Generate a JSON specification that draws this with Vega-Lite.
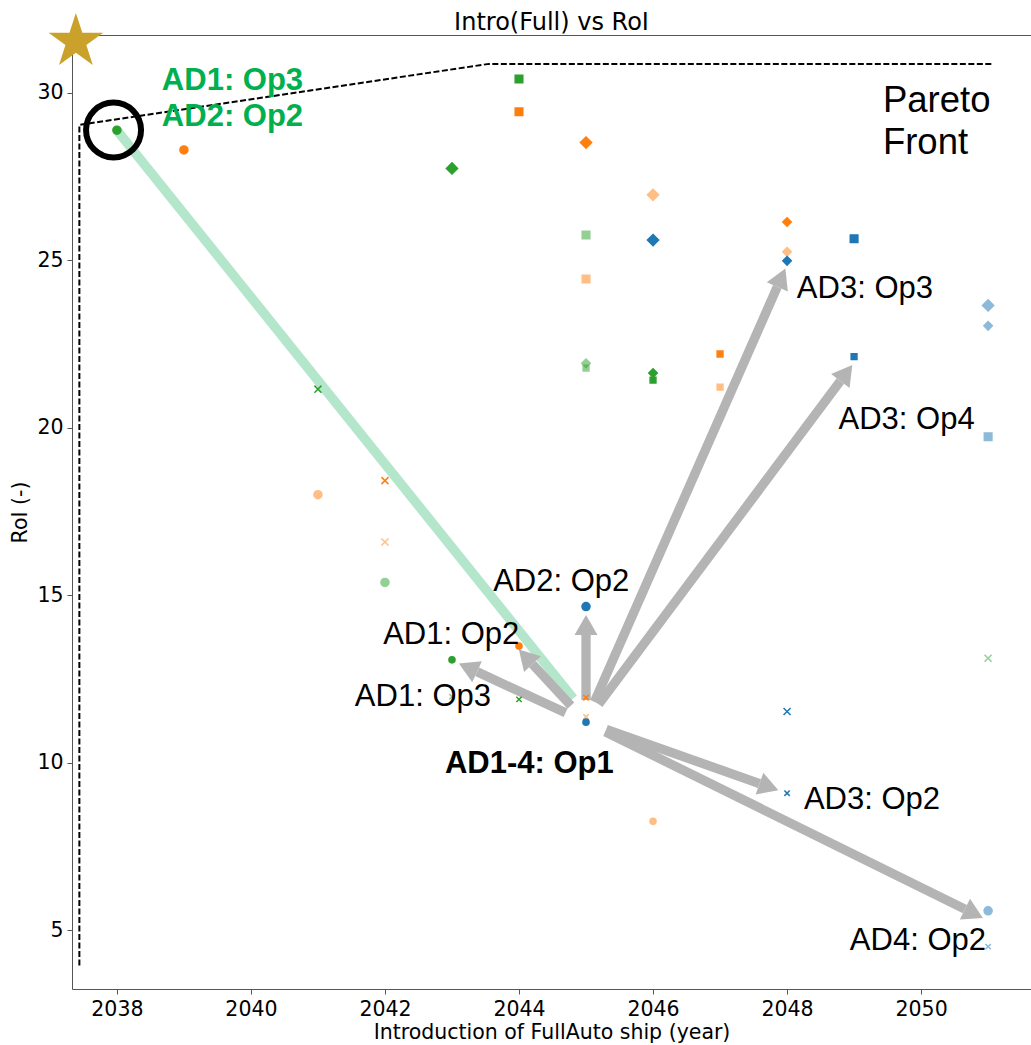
{
  "$schema": "https://vega.github.io/schema/vega-lite/v6.json",
  "width": 959,
  "height": 954,
  "autosize": "none",
  "padding": {"left": 72, "top": 35, "right": 0, "bottom": 56},
  "background": "white",
  "title": {"text": "Intro(Full) vs RoI", "font": "DejaVu Sans", "fontSize": 24, "fontWeight": "normal", "color": "#000", "anchor": "middle", "frame": "group", "baseline": "alphabetic", "offset": 0, "dy": 41},
  "config": {
    "view": {"stroke": "#555", "strokeWidth": 1},
    "axis": {"domain": false, "grid": false, "tickColor": "#555", "tickSize": 5, "tickWidth": 1, "labelFont": "DejaVu Sans", "labelFontSize": 20.5, "labelColor": "#000", "titleFont": "DejaVu Sans", "titleFontSize": 20.5, "titleFontWeight": "normal", "titleColor": "#000"}
  },
  "datasets": {
    "pts": [
      {"year": 2038, "roi": 28.88, "grp": "C", "tone": "full", "mk": "o", "sz": "big"},
      {"year": 2039, "roi": 28.29, "grp": "B", "tone": "full", "mk": "o", "sz": "big"},
      {"year": 2044, "roi": 30.41, "grp": "C", "tone": "full", "mk": "s", "sz": "big"},
      {"year": 2044, "roi": 29.43, "grp": "B", "tone": "full", "mk": "s", "sz": "big"},
      {"year": 2045, "roi": 28.51, "grp": "B", "tone": "full", "mk": "d", "sz": "big"},
      {"year": 2043, "roi": 27.74, "grp": "C", "tone": "full", "mk": "d", "sz": "big"},
      {"year": 2046, "roi": 26.95, "grp": "B", "tone": "faded", "mk": "d", "sz": "big"},
      {"year": 2045, "roi": 25.75, "grp": "C", "tone": "faded", "mk": "s", "sz": "big"},
      {"year": 2046, "roi": 25.6, "grp": "A", "tone": "full", "mk": "d", "sz": "big"},
      {"year": 2048, "roi": 26.14, "grp": "B", "tone": "full", "mk": "d", "sz": "small"},
      {"year": 2048, "roi": 25.25, "grp": "B", "tone": "faded", "mk": "d", "sz": "small"},
      {"year": 2048, "roi": 24.98, "grp": "A", "tone": "full", "mk": "d", "sz": "small"},
      {"year": 2049, "roi": 25.64, "grp": "A", "tone": "full", "mk": "s", "sz": "big"},
      {"year": 2045, "roi": 24.44, "grp": "B", "tone": "faded", "mk": "s", "sz": "big"},
      {"year": 2051, "roi": 23.65, "grp": "A", "tone": "faded", "mk": "d", "sz": "big"},
      {"year": 2051, "roi": 23.04, "grp": "A", "tone": "faded", "mk": "d", "sz": "small"},
      {"year": 2047, "roi": 22.2, "grp": "B", "tone": "full", "mk": "s", "sz": "small"},
      {"year": 2049, "roi": 22.12, "grp": "A", "tone": "full", "mk": "s", "sz": "small"},
      {"year": 2045, "roi": 21.92, "grp": "C", "tone": "faded", "mk": "d", "sz": "small"},
      {"year": 2045, "roi": 21.78, "grp": "C", "tone": "faded", "mk": "s", "sz": "small"},
      {"year": 2046, "roi": 21.63, "grp": "C", "tone": "full", "mk": "d", "sz": "small"},
      {"year": 2046, "roi": 21.42, "grp": "C", "tone": "full", "mk": "s", "sz": "small"},
      {"year": 2047, "roi": 21.21, "grp": "B", "tone": "faded", "mk": "s", "sz": "small"},
      {"year": 2051, "roi": 19.73, "grp": "A", "tone": "faded", "mk": "s", "sz": "big"},
      {"year": 2041, "roi": 21.15, "grp": "C", "tone": "full", "mk": "x", "sz": "big"},
      {"year": 2042, "roi": 18.42, "grp": "B", "tone": "full", "mk": "x", "sz": "big"},
      {"year": 2041, "roi": 18.0, "grp": "B", "tone": "faded", "mk": "o", "sz": "big"},
      {"year": 2042, "roi": 16.59, "grp": "B", "tone": "faded", "mk": "x", "sz": "big"},
      {"year": 2042, "roi": 15.38, "grp": "C", "tone": "faded", "mk": "o", "sz": "big"},
      {"year": 2045, "roi": 14.66, "grp": "A", "tone": "full", "mk": "o", "sz": "big"},
      {"year": 2044, "roi": 13.48, "grp": "B", "tone": "full", "mk": "o", "sz": "small"},
      {"year": 2043, "roi": 13.07, "grp": "C", "tone": "full", "mk": "o", "sz": "small"},
      {"year": 2044, "roi": 11.89, "grp": "C", "tone": "full", "mk": "x", "sz": "small"},
      {"year": 2043, "roi": 11.97, "grp": "C", "tone": "faded", "mk": "x", "sz": "small"},
      {"year": 2045, "roi": 11.94, "grp": "B", "tone": "full", "mk": "x", "sz": "small"},
      {"year": 2045, "roi": 11.37, "grp": "B", "tone": "faded", "mk": "x", "sz": "small"},
      {"year": 2045, "roi": 11.21, "grp": "A", "tone": "full", "mk": "o", "sz": "small"},
      {"year": 2051, "roi": 13.12, "grp": "C", "tone": "faded", "mk": "x", "sz": "big"},
      {"year": 2048, "roi": 11.53, "grp": "A", "tone": "full", "mk": "x", "sz": "big"},
      {"year": 2048, "roi": 9.09, "grp": "A", "tone": "full", "mk": "x", "sz": "small"},
      {"year": 2046, "roi": 8.25, "grp": "B", "tone": "faded", "mk": "o", "sz": "small"},
      {"year": 2051, "roi": 5.58, "grp": "A", "tone": "faded", "mk": "o", "sz": "big"},
      {"year": 2051, "roi": 4.51, "grp": "A", "tone": "faded", "mk": "x", "sz": "small"}
    ],
    "front": [
      {"year": 2037.44, "roi": 3.95, "o": 1},
      {"year": 2037.44, "roi": 29.04, "o": 2},
      {"year": 2043.55, "roi": 30.86, "o": 3},
      {"year": 2051.05, "roi": 30.86, "o": 4}
    ],
    "shafts": [
      {"id": "a1", "kind": "gray", "year": 2044.695, "roi": 11.49, "year2": 2043.375, "roi2": 12.713},
      {"id": "a2", "kind": "gray", "year": 2044.774, "roi": 11.704, "year2": 2044.201, "roi2": 12.94},
      {"id": "a3", "kind": "gray", "year": 2045.0, "roi": 11.871, "year2": 2045.0, "roi2": 13.812},
      {"id": "a4", "kind": "gray", "year": 2045.125, "roi": 11.818, "year2": 2047.854, "roi2": 24.206},
      {"id": "a5", "kind": "gray", "year": 2045.189, "roi": 11.743, "year2": 2048.795, "roi2": 21.394},
      {"id": "a6", "kind": "gray", "year": 2045.302, "roi": 10.997, "year2": 2047.589, "roi2": 9.376},
      {"id": "a7", "kind": "gray", "year": 2045.287, "roi": 10.925, "year2": 2050.654, "roi2": 5.627},
      {"id": "g1", "kind": "green", "year": 2044.81, "roi": 11.92, "year2": 2038.0, "roi2": 28.88}
    ],
    "heads": [
      {"id": "a1", "year": 2043.103, "roi": 12.964},
      {"id": "a2", "year": 2043.998, "roi": 13.379},
      {"id": "a3", "year": 2045.0, "roi": 14.409},
      {"id": "a4", "year": 2047.975, "roi": 24.752},
      {"id": "a5", "year": 2048.974, "roi": 21.872},
      {"id": "a6", "year": 2047.87, "roi": 9.176},
      {"id": "a7", "year": 2050.922, "roi": 5.364}
    ],
    "labels": [
      {"t": "AD1: Op3", "kind": "green", "year": 2038.671, "roi": 30.081},
      {"t": "AD2: Op2", "kind": "green", "year": 2038.671, "roi": 29.006},
      {"t": "Pareto", "kind": "pareto", "year": 2049.43, "roi": 29.433},
      {"t": "Front", "kind": "pareto", "year": 2049.43, "roi": 28.17},
      {"t": "AD3: Op3", "kind": "plain", "year": 2048.146, "roi": 23.871},
      {"t": "AD3: Op4", "kind": "plain", "year": 2048.768, "roi": 19.952},
      {"t": "AD2: Op2", "kind": "plain", "year": 2043.615, "roi": 15.134},
      {"t": "AD1: Op2", "kind": "plain", "year": 2041.973, "roi": 13.534},
      {"t": "AD1: Op3", "kind": "plain", "year": 2041.551, "roi": 11.693},
      {"t": "AD3: Op2", "kind": "plain", "year": 2048.251, "roi": 8.609},
      {"t": "AD4: Op2", "kind": "plain", "year": 2048.937, "roi": 4.409},
      {"t": "AD1-4: Op1", "kind": "bold", "year": 2042.894, "roi": 9.684}
    ],
    "marks": [
      {"kind": "ring", "year": 2037.95, "roi": 28.887},
      {"kind": "star", "year": 2037.388, "roi": 31.522}
    ]
  },
  "encoding": {
    "x": {"field": "year", "type": "quantitative", "scale": {"domain": [2037.33, 2051.64], "nice": false, "zero": false},
      "axis": {"values": [2038, 2040, 2042, 2044, 2046, 2048, 2050], "format": "d", "title": "Introduction of FullAuto ship (year)", "labelPadding": 5, "titlePadding": 3}},
    "y": {"field": "roi", "type": "quantitative", "scale": {"domain": [3.245, 31.722], "nice": false, "zero": false},
      "axis": {"values": [5, 10, 15, 20, 25, 30], "title": "RoI (-)", "labelPadding": 4, "titlePadding": 6}}
  },
  "layer": [
    {"data": {"name": "front"}, "mark": {"type": "line", "color": "#000", "strokeWidth": 2, "strokeDash": [6, 2.5]}, "encoding": {"order": {"field": "o", "type": "quantitative"}}},
    {"data": {"name": "shafts"}, "transform": [{"filter": "datum.kind == 'green'"}], "mark": {"type": "rule", "color": "#b3e6ca", "strokeWidth": 9.5, "strokeCap": "butt"}, "encoding": {"x2": {"field": "year2"}, "y2": {"field": "roi2"}}},
    {"data": {"name": "shafts"}, "transform": [{"filter": "datum.kind == 'gray'"}], "mark": {"type": "rule", "color": "#b4b4b4", "strokeWidth": 9.3, "strokeCap": "butt"}, "encoding": {"x2": {"field": "year2"}, "y2": {"field": "roi2"}}},
    {"data": {"name": "heads"}, "transform": [{"filter": "datum.id == 'a1'"}], "mark": {"type": "point", "shape": "M0,0L0.575,1L-0.575,1Z", "size": 1600, "filled": true, "opacity": 1, "color": "#b4b4b4", "strokeWidth": 0, "angle": -65.2}},
    {"data": {"name": "heads"}, "transform": [{"filter": "datum.id == 'a2'"}], "mark": {"type": "point", "shape": "M0,0L0.575,1L-0.575,1Z", "size": 1600, "filled": true, "opacity": 1, "color": "#b4b4b4", "strokeWidth": 0, "angle": -42.9}},
    {"data": {"name": "heads"}, "transform": [{"filter": "datum.id == 'a3'"}], "mark": {"type": "point", "shape": "M0,0L0.575,1L-0.575,1Z", "size": 1600, "filled": true, "opacity": 1, "color": "#b4b4b4", "strokeWidth": 0, "angle": 0}},
    {"data": {"name": "heads"}, "transform": [{"filter": "datum.id == 'a4'"}], "mark": {"type": "point", "shape": "M0,0L0.575,1L-0.575,1Z", "size": 1600, "filled": true, "opacity": 1, "color": "#b4b4b4", "strokeWidth": 0, "angle": 23.8}},
    {"data": {"name": "heads"}, "transform": [{"filter": "datum.id == 'a5'"}], "mark": {"type": "point", "shape": "M0,0L0.575,1L-0.575,1Z", "size": 1600, "filled": true, "opacity": 1, "color": "#b4b4b4", "strokeWidth": 0, "angle": 36.8}},
    {"data": {"name": "heads"}, "transform": [{"filter": "datum.id == 'a6'"}], "mark": {"type": "point", "shape": "M0,0L0.575,1L-0.575,1Z", "size": 1600, "filled": true, "opacity": 1, "color": "#b4b4b4", "strokeWidth": 0, "angle": 109.5}},
    {"data": {"name": "heads"}, "transform": [{"filter": "datum.id == 'a7'"}], "mark": {"type": "point", "shape": "M0,0L0.575,1L-0.575,1Z", "size": 1600, "filled": true, "opacity": 1, "color": "#b4b4b4", "strokeWidth": 0, "angle": 116.2}},
    {"data": {"name": "pts"}, "mark": {"type": "point", "filled": true, "strokeWidth": 1.5},
      "encoding": {
        "color": {"field": "grp", "type": "nominal", "scale": {"domain": ["A", "B", "C"], "range": ["#1f77b4", "#ff7f0e", "#2ca02c"]}, "legend": null},
        "stroke": {"field": "grp", "type": "nominal", "scale": {"domain": ["A", "B", "C"], "range": ["#1f77b4", "#ff7f0e", "#2ca02c"]}, "legend": null},
        "opacity": {"field": "tone", "type": "nominal", "scale": {"domain": ["full", "faded"], "range": [1, 0.5]}, "legend": null},
        "shape": {"field": "mk", "type": "nominal", "scale": {"domain": ["o", "x", "s", "d"], "range": ["M-0.72,0A0.72,0.72 0 1,0 0.72,0A0.72,0.72 0 1,0 -0.72,0Z", "M-0.63,-0.63L0.63,0.63M0.63,-0.63L-0.63,0.63", "M-0.68,-0.68L0.68,-0.68L0.68,0.68L-0.68,0.68Z", "M0,-1L1,0L0,1L-1,0Z"]}, "legend": null},
        "size": {"field": "sz", "type": "nominal", "scale": {"domain": ["big", "small"], "range": [125, 72]}, "legend": null}
      }},
    {"data": {"name": "marks"}, "transform": [{"filter": "datum.kind == 'ring'"}], "mark": {"type": "point", "shape": "circle", "filled": false, "size": 3025, "stroke": "#000", "strokeWidth": 6, "opacity": 1, "clip": false}},
    {"data": {"name": "marks"}, "transform": [{"filter": "datum.kind == 'star'"}], "mark": {"type": "point", "shape": "M0,-1L0.2245,-0.309L0.951,-0.309L0.363,0.118L0.588,0.809L0,0.382L-0.588,0.809L-0.363,0.118L-0.951,-0.309L-0.2245,-0.309Z", "filled": true, "size": 3300, "color": "#c9a12b", "opacity": 1, "strokeWidth": 0, "clip": false}},
    {"data": {"name": "labels"}, "transform": [{"filter": "datum.kind == 'green'"}], "mark": {"type": "text", "align": "left", "baseline": "alphabetic", "font": "Liberation Sans", "fontSize": 31, "fontWeight": "bold", "color": "#00b050"}, "encoding": {"text": {"field": "t"}}},
    {"data": {"name": "labels"}, "transform": [{"filter": "datum.kind == 'pareto'"}], "mark": {"type": "text", "align": "left", "baseline": "alphabetic", "font": "Liberation Sans", "fontSize": 36.5, "color": "#000"}, "encoding": {"text": {"field": "t"}}},
    {"data": {"name": "labels"}, "transform": [{"filter": "datum.kind == 'plain'"}], "mark": {"type": "text", "align": "left", "baseline": "alphabetic", "font": "Liberation Sans", "fontSize": 31, "color": "#000"}, "encoding": {"text": {"field": "t"}}},
    {"data": {"name": "labels"}, "transform": [{"filter": "datum.kind == 'bold'"}], "mark": {"type": "text", "align": "left", "baseline": "alphabetic", "font": "Liberation Sans", "fontSize": 31, "fontWeight": "bold", "color": "#000"}, "encoding": {"text": {"field": "t"}}}
  ]
}
